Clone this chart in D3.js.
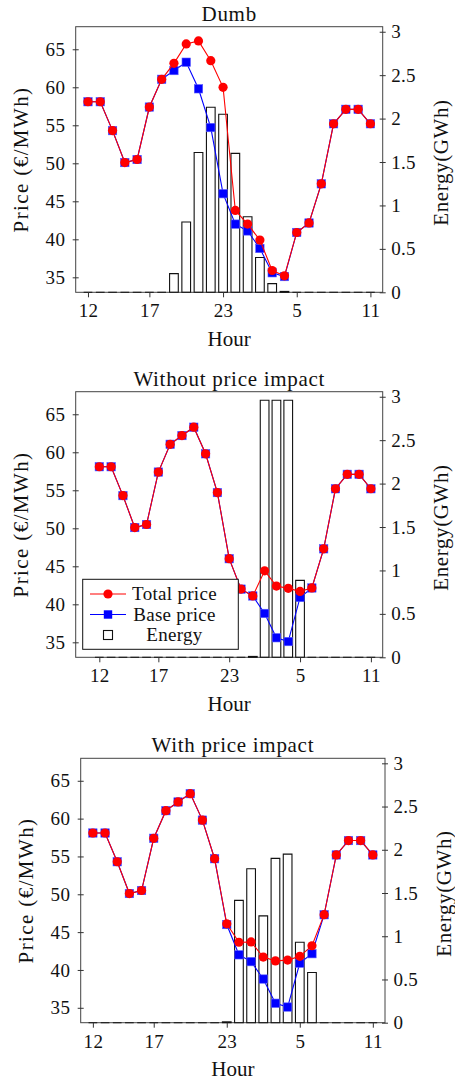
<!DOCTYPE html>
<html>
<head>
<meta charset="utf-8">
<script src="https://cdn.jsdelivr.net/npm/d3@7"></script>
<style>
  body { margin: 0; background: #fff; }
  svg { display: block; }
  text { font-family: "Liberation Serif", "Times New Roman", serif; fill: #111; }
</style>
</head>
<body>
<script>
// Hours of the day, noon to 11 the next morning
const hours = [12, 13, 14, 15, 16, 17, 18, 19, 20, 21, 22, 23, 0, 1, 2, 3, 4, 5, 6, 7, 8, 9, 10, 11];
const hourTicks = [12, 17, 23, 5, 11];
const priceTicks = [35, 40, 45, 50, 55, 60, 65];
const energyTicks = [0, 0.5, 1, 1.5, 2, 2.5, 3];

// Base electricity price (€/MWh)
const basePrice = [58.1, 58.1, 54.3, 50.1, 50.5, 57.4, 61.05, 62.2, 63.3, 59.8, 54.7, 46.0,
                   42.0, 41.1, 38.8, 35.6, 35.1, 40.9, 42.15, 47.3, 55.2, 57.1, 57.1, 55.2];

// Total price including the charging load (€/MWh)
const totalPriceDumb = [58.1, 58.1, 54.3, 50.1, 50.5, 57.4, 61.05, 63.15, 65.7, 66.1, 63.5, 60.0,
                        43.8, 42.0, 39.9, 35.9, 35.2, 40.9, 42.15, 47.3, 55.2, 57.1, 57.1, 55.2];
const totalPriceNoImpact = [58.1, 58.1, 54.3, 50.1, 50.5, 57.4, 61.05, 62.2, 63.3, 59.8, 54.7, 46.0,
                            42.0, 41.1, 44.4, 42.4, 42.1, 41.7, 42.15, 47.3, 55.2, 57.1, 57.1, 55.2];
const totalPriceImpact = [58.1, 58.1, 54.3, 50.1, 50.5, 57.4, 61.05, 62.2, 63.3, 59.8, 54.7, 46.1,
                          43.66, 43.7, 41.7, 41.2, 41.3, 41.8, 43.2, 47.3, 55.2, 57.1, 57.1, 55.2];

// Charging energy per hour (GWh)
const energyDumb = [0, 0, 0, 0, 0, 0, 0, 0.215, 0.81, 1.61, 2.13, 2.05,
                    1.60, 0.87, 0.40, 0.10, 0.01, 0, 0, 0, 0, 0, 0, 0];
const energyNoImpact = [0, 0, 0, 0, 0, 0, 0, 0, 0, 0, 0, 0,
                        0, 0.01, 2.96, 2.96, 2.96, 0.886, 0, 0, 0, 0, 0, 0];
const energyImpact = [0, 0, 0, 0, 0, 0, 0, 0, 0, 0, 0, 0.01,
                      1.415, 1.78, 1.235, 1.90, 1.95, 0.93, 0.58, 0, 0, 0, 0, 0];

const W = 455, H = 1083;
const svg = d3.select("body").append("svg").attr("width", W).attr("height", H);

const panels = [
  { title: "Dumb", total: totalPriceDumb, energy: energyDumb,
    left: 75.7, right: 382.7, top: 26.7, bottom: 292.3, xMin: -1, xMax: 24, legend: false },
  { title: "Without price impact", total: totalPriceNoImpact, energy: energyNoImpact,
    left: 75.7, right: 382.7, top: 391.7, bottom: 657.3, xMin: -2, xMax: 24, legend: true },
  { title: "With price impact", total: totalPriceImpact, energy: energyImpact,
    left: 80.7, right: 385, top: 758.3, bottom: 1022.7, xMin: -1, xMax: 24, legend: false }
];

const RED = "#ff0000", BLUE = "#0000ff";
const FS = 19;

function styleAxis(g) {
  g.attr("font-family", null).attr("font-size", null);
  g.select(".domain").remove();
  g.selectAll(".tick line").attr("stroke", "#333");
  g.selectAll(".tick text").attr("font-size", FS).attr("fill", "#111")
    .attr("letter-spacing", 0.3);
}

function drawPanel(p) {
  const idx = d3.range(hours.length);
  const x = d3.scaleLinear().domain([p.xMin, p.xMax]).range([p.left, p.right]);
  const yP = d3.scaleLinear().domain([33.03, 67.97]).range([p.bottom, p.top]);
  const yE = d3.scaleLinear().domain([0, 3.058]).range([p.bottom, p.top]);
  const g = svg.append("g");

  // frame
  g.append("rect")
    .attr("x", p.left).attr("y", p.top)
    .attr("width", p.right - p.left).attr("height", p.bottom - p.top)
    .attr("fill", "none").attr("stroke", "#444").attr("stroke-width", 1);

  // energy bars (zero values still leave a flat stroke on the baseline)
  const bw = 8.7;
  g.append("g").selectAll("path").data(idx).join("path")
    .attr("d", i => {
      const x0 = x(i) - bw / 2, x1 = x(i) + bw / 2;
      const yb = yE(0), yt = yE(p.energy[i]);
      return `M${x0},${yb}L${x0},${yt}L${x1},${yt}L${x1},${yb}Z`;
    })
    .attr("fill", "none")
    .attr("stroke", "#111").attr("stroke-width", 1.1);

  // base price
  const line = (arr) => d3.line().x(i => x(i)).y(i => yP(arr[i]))(idx);
  g.append("path").attr("d", line(basePrice))
    .attr("fill", "none").attr("stroke", BLUE).attr("stroke-width", 1.1);
  g.append("g").selectAll("rect").data(idx).join("rect")
    .attr("x", i => x(i) - 4.2).attr("y", i => yP(basePrice[i]) - 4.2)
    .attr("width", 8.4).attr("height", 8.4)
    .attr("fill", BLUE).attr("stroke", "#5a5aff").attr("stroke-width", 0.6);

  // total price
  g.append("path").attr("d", line(p.total))
    .attr("fill", "none").attr("stroke", RED).attr("stroke-width", 1.1);
  g.append("g").selectAll("circle").data(idx).join("circle")
    .attr("cx", i => x(i)).attr("cy", i => yP(p.total[i])).attr("r", 4.6)
    .attr("fill", RED);

  // axes
  const ax = g.append("g").attr("transform", `translate(0,${p.bottom})`)
    .call(d3.axisBottom(x)
      .tickValues(hourTicks.map(h => hours.indexOf(h)))
      .tickFormat(i => hours[i])
      .tickSizeInner(5).tickSizeOuter(0).tickPadding(6.5));
  styleAxis(ax);

  const ay = g.append("g").attr("transform", `translate(${p.left},0)`)
    .call(d3.axisLeft(yP).tickValues(priceTicks)
      .tickSizeInner(3).tickSizeOuter(0).tickPadding(7.5));
  styleAxis(ay);
  ay.selectAll(".tick line").attr("x1", -3).attr("x2", 3);

  const ae = g.append("g").attr("transform", `translate(${p.right},0)`)
    .call(d3.axisRight(yE).tickValues(energyTicks).tickFormat(d3.format("~g"))
      .tickSizeInner(3).tickSizeOuter(0).tickPadding(5.5));
  styleAxis(ae);
  ae.selectAll(".tick line").attr("x1", -3).attr("x2", 3);

  // titles and axis labels
  const cx = (p.left + p.right) / 2, cy = (p.top + p.bottom) / 2;
  g.append("text").attr("x", cx).attr("y", p.top - 6)
    .attr("text-anchor", "middle").attr("font-size", 21).attr("letter-spacing", 0.7)
    .text(p.title);
  g.append("text").attr("x", cx).attr("y", p.bottom + 53.4)
    .attr("text-anchor", "middle").attr("font-size", 21).text("Hour");
  g.append("text").attr("transform", `translate(${p.left - 47.5},${cy}) rotate(-90)`)
    .attr("text-anchor", "middle").attr("font-size", 21).attr("letter-spacing", 1.4)
    .text("Price (€/MWh)");
  g.append("text").attr("transform", `translate(${p.right + 65.5},${cy + 3}) rotate(-90)`)
    .attr("text-anchor", "middle").attr("font-size", 21).attr("letter-spacing", 0.6)
    .text("Energy(GWh)");

  if (p.legend) drawLegend(g);
}

function drawLegend(g) {
  const lx = 82.7, ly = 579.3, lw = 155.6, lh = 70;
  const L = g.append("g");
  L.append("rect").attr("x", lx).attr("y", ly).attr("width", lw).attr("height", lh)
    .attr("fill", "#fff").attr("stroke", "#111").attr("stroke-width", 1);
  const tx = 174.5, mx = 108;
  const rows = [594, 614.5, 635];
  // Total price
  L.append("line").attr("x1", 90).attr("x2", 126).attr("y1", rows[0]).attr("y2", rows[0])
    .attr("stroke", RED).attr("stroke-width", 1.1);
  L.append("circle").attr("cx", mx).attr("cy", rows[0]).attr("r", 4.6).attr("fill", RED);
  // Base price
  L.append("line").attr("x1", 90).attr("x2", 126).attr("y1", rows[1]).attr("y2", rows[1])
    .attr("stroke", BLUE).attr("stroke-width", 1.1);
  L.append("rect").attr("x", mx - 4.2).attr("y", rows[1] - 4.2).attr("width", 8.4).attr("height", 8.4)
    .attr("fill", BLUE);
  // Energy
  L.append("rect").attr("x", mx - 4.5).attr("y", rows[2] - 4.5).attr("width", 9).attr("height", 9)
    .attr("fill", "#fff").attr("stroke", "#111").attr("stroke-width", 1.1);
  const labels = ["Total price", "Base price", "Energy"];
  labels.forEach((t, k) => {
    L.append("text").attr("x", tx).attr("y", rows[k] + 6.2)
      .attr("text-anchor", "middle").attr("font-size", FS).attr("letter-spacing", 0.3)
      .text(t);
  });
}

panels.forEach(drawPanel);
</script>
</body>
</html>
